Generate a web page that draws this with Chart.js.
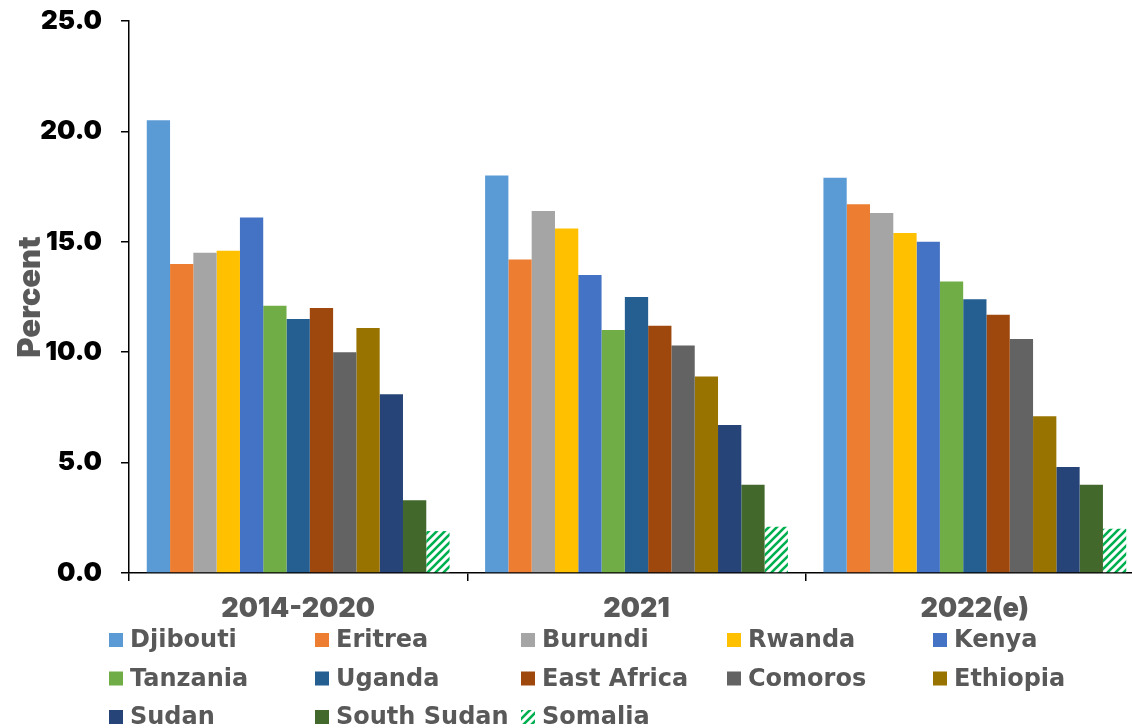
<!DOCTYPE html>
<html>
<head>
<meta charset="utf-8">
<script src="https://cdn.jsdelivr.net/npm/chart.js@4.4.1/dist/chart.umd.min.js"></script>
<style>
	html, body { margin: 0; padding: 0; background: #fff; overflow: hidden; }
	#wrap { width: 1160px; height: 728px; }
</style>
</head>
<body>
<div id="wrap"><canvas id="chart" width="1160" height="728"></canvas></div>
<script>
const periods = ['2014-2020', '2021', '2022(e)'];
const countries = ['Djibouti', 'Eritrea', 'Burundi', 'Rwanda', 'Kenya', 'Tanzania', 'Uganda',
	'East Africa', 'Comoros', 'Ethiopia', 'Sudan', 'South Sudan', 'Somalia'];

// percent, one array per period, in the order of countries
const values_2014_2020 = [20.5, 14.0, 14.5, 14.6, 16.1, 12.1, 11.5, 12.0, 10.0, 11.1, 8.1, 3.3, 1.9];
const values_2021 = [18.0, 14.2, 16.4, 15.6, 13.5, 11.0, 12.5, 11.2, 10.3, 8.9, 6.7, 4.0, 2.1];
const values_2022 = [17.9, 16.7, 16.3, 15.4, 15.0, 13.2, 12.4, 11.7, 10.6, 7.1, 4.8, 4.0, 2.0];

const yTicks = [0, 5, 10, 15, 20, 25];

const colors = ['#5B9BD5', '#ED7D31', '#A5A5A5', '#FFC000', '#4472C4', '#70AD47', '#255E91',
	'#9E480E', '#636363', '#997300', '#264478', '#43682B', null];

// green upward diagonal stripes for Somalia
function stripes() {
	const c = document.createElement('canvas');
	c.width = 8; c.height = 8;
	const g = c.getContext('2d');
	g.fillStyle = '#fff';
	g.fillRect(0, 0, 8, 8);
	g.strokeStyle = '#00B050';
	g.lineWidth = 2.6;
	g.beginPath();
	g.moveTo(-2, 10); g.lineTo(10, -2);
	g.moveTo(-6, 6); g.lineTo(6, -6);
	g.moveTo(2, 14); g.lineTo(14, 2);
	g.stroke();
	return g.createPattern(c, 'repeat');
}
const somaliaFill = stripes();

const series = [values_2014_2020, values_2021, values_2022];
const datasets = countries.map((name, i) => ({
	label: name,
	data: series.map(s => s[i]),
	backgroundColor: colors[i] || somaliaFill,
	borderWidth: 0,
	categoryPercentage: 0.895,
	barPercentage: 1.0,
}));

const heavy = '"Inter", "Roboto", "DejaVu Sans", sans-serif';

// legend in a 5-column grid under the axis
const gridLegend = {
	id: 'gridLegend',
	afterDraw(chart) {
		const ctx = chart.ctx;
		ctx.save();
		ctx.font = 'bold 24px "DejaVu Sans", sans-serif';
		ctx.textBaseline = 'middle';
		chart.data.datasets.forEach((ds, i) => {
			const col = i % 5, row = Math.floor(i / 5);
			const x = 109 + col * 206;
			const y = 640 + row * 38.5;
			ctx.fillStyle = ds.backgroundColor;
			ctx.fillRect(x, y - 7, 14, 14);
			ctx.fillStyle = '#595959';
			ctx.fillText(ds.label, x + 21, y + 1);
		});
		ctx.restore();
	}
};

new Chart(document.getElementById('chart'), {
	type: 'bar',
	data: { labels: periods, datasets },
	plugins: [gridLegend],
	options: {
		responsive: false,
		animation: false,
		devicePixelRatio: 1,
		layout: { padding: { left: 0, top: 21, right: 16, bottom: 105 } },
		plugins: {
			legend: { display: false },
			tooltip: { enabled: false }
		},
		scales: {
			x: {
				afterFit: scale => { scale.height = 50; },
				grid: { drawOnChartArea: false, drawTicks: true, tickLength: 8, color: '#000', lineWidth: 1.5 },
				border: { color: '#000', width: 1.5 },
				ticks: {
					color: '#595959',
					padding: 12,
					font: { family: heavy, weight: 900, size: 27 }
				}
			},
			y: {
				min: 0,
				max: 25,
				afterFit: scale => {
					scale.width = 129;
					scale.paddingTop = 0;
					scale.paddingBottom = 0;
				},
				afterBuildTicks: scale => { scale.ticks = yTicks.map(v => ({ value: v })); },
				grid: { drawOnChartArea: false, drawTicks: true, tickLength: 8, color: '#000', lineWidth: 1.5 },
				border: { color: '#000', width: 1.5 },
				title: {
					display: true,
					text: 'Percent',
					color: '#595959',
					padding: { top: 15, bottom: 0 },
					font: { family: heavy, weight: 900, size: 31, lineHeight: 1 }
				},
				ticks: {
					color: '#000',
					padding: 19,
					font: { family: heavy, weight: 900, size: 26 },
					callback: v => v.toFixed(1)
				}
			}
		}
	}
});
</script>
</body>
</html>
